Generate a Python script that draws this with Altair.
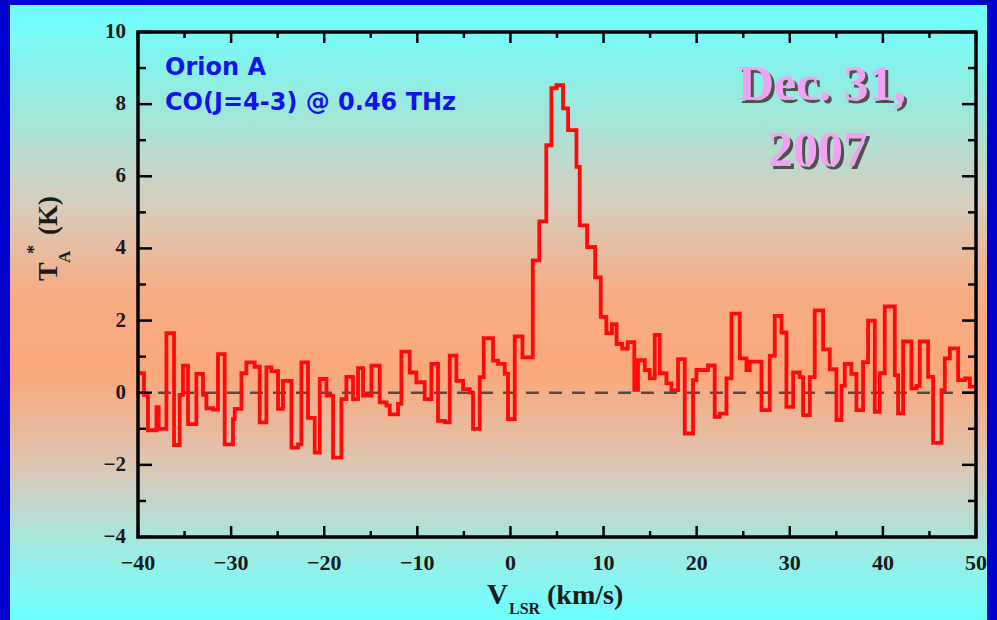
import altair as alt
import pandas as pd

# ---- data (step spectrum: channel start velocity, antenna temperature)
v_start = [-40.0, -39.36, -38.93, -38.02, -37.78, -36.95, -36.13, -35.52, -35.17, -34.63,
           -33.73, -33.02, -32.65, -31.94, -31.41, -30.69, -29.80, -29.61, -28.89, -28.36,
           -27.47, -26.93, -26.21, -25.68, -24.96, -24.43, -23.52, -22.81, -22.45, -21.74,
           -21.02, -20.48, -19.76, -19.05, -18.15, -17.62, -16.91, -16.37, -15.83, -14.93,
           -14.04, -13.32, -12.96, -12.07, -11.71, -10.82, -10.10, -9.21, -8.49, -7.78,
           -7.06, -6.52, -5.80, -5.09, -4.37, -4.02, -3.30, -2.87, -1.87, -1.33,
           -0.61, -0.26, 0.46, 1.29, 2.40, 3.10, 3.85, 4.40, 4.94, 5.65,
           6.19, 7.09, 7.44, 8.23, 9.10, 9.70, 10.30, 10.90, 11.40, 12.00,
           12.60, 13.30, 13.70, 14.43, 14.96, 15.50, 16.04, 16.75, 17.29, 18.00,
           18.72, 19.61, 19.98, 21.22, 21.94, 22.48, 23.20, 23.74, 24.63, 25.35,
           25.70, 26.96, 27.85, 28.39, 29.11, 29.64, 30.36, 31.07, 31.43, 32.15,
           32.68, 33.58, 34.30, 35.01, 35.55, 35.91, 36.62, 37.16, 37.87, 38.41,
           39.13, 39.66, 40.20, 41.28, 41.63, 42.17, 43.07, 43.61, 43.96, 44.86,
           45.39, 46.30, 46.65, 47.19, 48.08, 48.80, 49.34]
ta = [0.54, -0.06, -1.04, -0.40, -1.00, 1.65, -1.45, -0.06, 0.75, -0.87,
      0.52, -0.06, -0.43, -0.47, 1.07, -1.43, -0.73, -0.45, 0.54, 0.84,
      0.72, -0.82, 0.70, 0.60, -0.45, 0.33, -1.52, -1.43, 0.84, -0.70,
      -1.66, 0.38, -0.08, -1.80, -0.18, 0.44, -0.18, 0.68, -0.08, 0.75,
      -0.27, -0.36, -0.60, -0.31, 1.14, 0.56, 0.29, -0.18, 0.80, -0.78,
      -0.82, 1.03, 0.33, 0.10, 0.00, -1.00, 0.43, 1.51, 0.89, 0.80,
      0.52, -0.73, 1.56, 0.98, 3.67, 4.75, 6.86, 8.44, 8.53, 7.88,
      7.28, 6.26, 4.64, 4.04, 3.20, 2.10, 1.65, 1.90, 1.35, 1.22,
      1.40, 0.08, 0.90, 0.63, 0.40, 1.60, 0.54, 0.26, 0.07, 0.93,
      -1.13, 0.35, 0.63, 0.76, -0.67, -0.58, 0.40, 2.19, 0.95, 0.63,
      0.86, -0.48, 1.02, 2.13, 1.67, -0.39, 0.56, 0.43, -0.62, 0.43,
      2.28, 1.20, 0.65, -0.76, 0.19, 0.80, 0.52, -0.48, 0.85, 2.00,
      -0.53, 0.54, 2.39, 0.49, -0.57, 1.42, 0.12, 0.19, 1.42, 0.44,
      -1.39, 0.07, 0.95, 1.23, 0.35, 0.40, 0.17]
v_end = 50.0

x_major = [-40, -30, -20, -10, 0, 10, 20, 30, 40, 50]
x_minor = [-35, -25, -15, -5, 5, 15, 25, 35, 45]
y_major = [-4, -2, 0, 2, 4, 6, 8, 10]
y_minor = [-3, -1, 1, 3, 5, 7, 9]
baseline_val = [0]

label_lines = ["Orion A", "CO(J=4-3) @ 0.46 THz"]
date_lines = ["Dec. 31,", "2007"]
x_title_parts = ["V", "LSR", "(km/s)"]
y_title_parts = ["T", "A", "*", "(K)"]

# ---- layout
W, H = 838, 505
SERIF = "Liberation Serif"
INK = "#1a1a1a"

x_scale = alt.Scale(domain=[-40, 50], nice=False, zero=False)
y_scale = alt.Scale(domain=[-4, 10], nice=False, zero=False)


def fmt(n):
    return ("\u2212" + str(-n)) if n < 0 else str(n)


spec = pd.DataFrame({"v": v_start + [v_end], "ta": ta + [ta[-1]]})
one = pd.DataFrame({"a": [0]})

grad = alt.LinearGradient(
    gradient="linear", x1=0, x2=0, y1=0, y2=1,
    stops=[
        alt.GradientStop(offset=0.0, color="#6EFFFF"),
        alt.GradientStop(offset=0.12, color="#8CEFE6"),
        alt.GradientStop(offset=0.32, color="#D6CEBE"),
        alt.GradientStop(offset=0.47, color="#F7AC84"),
        alt.GradientStop(offset=0.60, color="#FAA87C"),
        alt.GradientStop(offset=0.76, color="#DAC8B8"),
        alt.GradientStop(offset=0.88, color="#A2EAE2"),
        alt.GradientStop(offset=1.0, color="#6CFFFF"),
    ],
)

bg = alt.Chart(one).mark_rect(fill=grad).encode(
    x=alt.value(-128), x2=alt.value(849), y=alt.value(-27), y2=alt.value(588)
)

zero_line = alt.Chart(pd.DataFrame({"y": baseline_val})).mark_rule(
    color="#4d4d4d", strokeWidth=2.5, strokeDash=[13, 10]
).encode(y=alt.Y("y:Q", scale=y_scale, axis=None))

line = alt.Chart(spec).mark_line(
    interpolate="step-after", color="#FF0A0A", strokeWidth=3.8
).encode(
    x=alt.X("v:Q", scale=x_scale, axis=None),
    y=alt.Y("ta:Q", scale=y_scale, axis=None),
)

frame = alt.Chart(one).mark_rect(filled=False, stroke="black", strokeWidth=3.5).encode(
    x=alt.value(0), x2=alt.value(W), y=alt.value(0), y2=alt.value(H)
)


def xticks(vals, length, top):
    y0, y1 = (0, length) if top else (H, H - length)
    return alt.Chart(pd.DataFrame({"v": vals})).mark_rule(color="black", strokeWidth=2.5).encode(
        x=alt.X("v:Q", scale=x_scale, axis=None), y=alt.value(y0), y2=alt.value(y1)
    )


def yticks(vals, length, right):
    x0, x1 = (W, W - length) if right else (0, length)
    return alt.Chart(pd.DataFrame({"t": vals})).mark_rule(color="black", strokeWidth=2.5).encode(
        y=alt.Y("t:Q", scale=y_scale, axis=None), x=alt.value(x0), x2=alt.value(x1)
    )


ticks = [
    xticks(x_major, 11, False), xticks(x_minor, 6, False),
    xticks(x_major, 11, True), xticks(x_minor, 6, True),
    yticks(y_major, 14, False), yticks(y_minor, 8, False),
    yticks(y_major, 14, True), yticks(y_minor, 8, True),
]

x_labels = alt.Chart(pd.DataFrame({"v": x_major, "s": [fmt(n) for n in x_major]})).mark_text(
    align="center", baseline="top", font=SERIF, fontWeight="bold", fontSize=22, color=INK
).encode(x=alt.X("v:Q", scale=x_scale, axis=None), y=alt.value(H + 16), text="s:N")

y_labels = alt.Chart(pd.DataFrame({"t": y_major, "s": [fmt(n) for n in y_major]})).mark_text(
    align="right", baseline="middle", font=SERIF, fontWeight="bold", fontSize=21, color=INK
).encode(y=alt.Y("t:Q", scale=y_scale, axis=None), x=alt.value(-12), text="s:N")


def txt(s, x, y, size, font, color, align="left", weight="bold", angle=0, baseline="alphabetic"):
    kw = dict(align=align, baseline=baseline, fontSize=size, font=font,
              fontWeight=weight, color=color)
    if angle:
        kw["angle"] = angle
    return alt.Chart(pd.DataFrame({"s": [s]})).mark_text(**kw).encode(
        x=alt.value(x), y=alt.value(y), text="s:N"
    )


texts = [
    txt(label_lines[0], 27, 43, 24, "DejaVu Sans", "#1414E6"),
    txt(label_lines[1], 27, 78, 24, "DejaVu Sans", "#1414E6"),
    txt(date_lines[0], 687, 71, 50, SERIF, "#505050", align="center"),
    txt(date_lines[1], 683, 137, 50, SERIF, "#505050", align="center"),
    txt(date_lines[0], 684, 68, 50, SERIF, "#F2A2F2", align="center"),
    txt(date_lines[1], 680, 134, 50, SERIF, "#F2A2F2", align="center"),
    # x title
    txt(x_title_parts[0], 349, 572, 29, SERIF, INK),
    txt(x_title_parts[1], 371, 582, 16, SERIF, INK),
    txt(x_title_parts[2], 409, 572, 28, SERIF, INK),
    # y title (rotated)
    txt(y_title_parts[0], -81, 249, 28, SERIF, INK, angle=270),
    txt(y_title_parts[1], -68, 231, 17, SERIF, INK, angle=270),
    txt(y_title_parts[2], -98, 222, 18, SERIF, INK, angle=270),
    txt(y_title_parts[3], -81, 203, 27, SERIF, INK, angle=270),
]

chart = alt.layer(bg, zero_line, line, *ticks, frame, x_labels, y_labels, *texts).properties(
    width=W, height=H,
    autosize=alt.AutoSizeParams(type="none"),
    padding={"left": 138, "top": 32, "right": 21, "bottom": 83},
    background="#0000CC",
).configure_view(stroke=None)

chart.save("out.html", embed_options={"renderer": "svg", "actions": False})
